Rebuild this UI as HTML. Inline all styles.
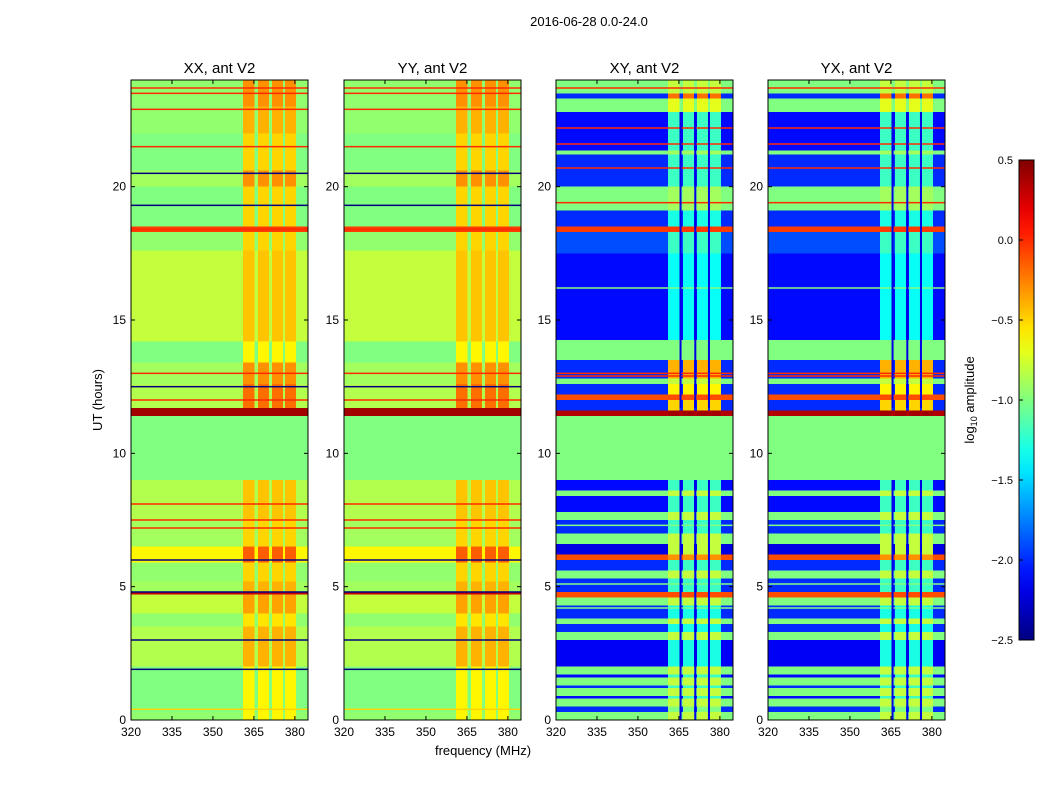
<!DOCTYPE html>
<html><head><meta charset="utf-8"><style>
body{margin:0;background:#fff;}
svg{display:block;font-family:"Liberation Sans",sans-serif;}
</style></head><body>
<svg id="fig" width="1050" height="800" viewBox="0 0 1050 800" xmlns="http://www.w3.org/2000/svg">
<rect width="1050" height="800" fill="#fff"/>
<text x="589" y="26" font-size="13" text-anchor="middle">2016-06-28 0.0-24.0</text>
<text transform="translate(102,400) rotate(-90)" font-size="13" text-anchor="middle">UT (hours)</text>
<text x="483" y="755" font-size="13" text-anchor="middle">frequency (MHz)</text>
<g id="panels"></g>
<defs><linearGradient id="jet" x1="0" y1="1" x2="0" y2="0"></linearGradient></defs>
<g id="cbar"></g>
<text transform="translate(974,400) rotate(-90)" font-size="13" text-anchor="middle">log<tspan font-size="9" dy="3">10</tspan><tspan dy="-3"> amplitude</tspan></text>
</svg>
<script>
// ---- data ----
const panelTitles = ["XX, ant V2","YY, ant V2","XY, ant V2","YX, ant V2"];
const xTicks = [320,335,350,365,380];
const yTicks = [0,5,10,15,20];
const cbTicks = [0.5,0.0,-0.5,-1.0,-1.5,-2.0,-2.5];
const rfiBlocks = [[361,365.2],[366.5,370.5],[371.6,375.6],[376.3,380.4]];
// [startHour, endHour, baseLog10, rfiLog10]
const parBands = [
[0,0.3,-0.95,-0.6],[0.3,2.0,-1.0,-0.6],[2.0,3.5,-0.85,-0.4],[3.5,4.0,-0.95,-0.55],
[4.0,4.7,-0.8,-0.35],[4.7,4.8,0.3,0.3],[4.8,5.2,-0.9,-0.4],[5.2,5.9,-0.95,-0.5],
[5.9,6.5,-0.6,-0.15],[6.5,7.5,-0.9,-0.5],[7.5,9.0,-0.85,-0.45],[9.0,11.4,-1.0,-1.0],
[11.4,11.7,0.4,0.4],[11.7,12.6,-0.85,-0.2],[12.6,13.4,-0.9,-0.3],[13.4,14.2,-1.0,-0.6],
[14.2,17.6,-0.8,-0.45],[17.6,18.3,-0.95,-0.5],[18.3,18.5,-0.05,-0.05],[18.5,20.0,-1.0,-0.5],
[20.0,20.6,-0.9,-0.3],[20.6,22.0,-1.0,-0.5],[22.0,23.0,-0.95,-0.4],[23.0,24,-0.95,-0.3]];
const crossBands = [
[0,0.3,-1.0,-0.8],[0.3,0.5,-2.0,-1.0],[0.5,0.8,-1.0,-0.8],[0.8,0.9,-2.1,-1.2],[0.9,1.2,-1.0,-0.8],
[1.2,1.3,-2.0,-1.2],[1.3,1.6,-1.0,-0.8],[1.6,1.7,-2.1,-1.2],[1.7,2.0,-1.0,-0.8],
[2.0,3.0,-2.15,-1.3],[3.0,3.3,-1.0,-0.8],[3.3,3.6,-2.0,-1.3],[3.6,3.8,-1.0,-0.8],
[3.8,4.3,-2.0,-1.3],[4.3,4.6,-1.0,-0.8],[4.6,4.8,-0.1,-0.1],[4.8,5.3,-2.0,-1.2],
[5.3,5.6,-1.0,-0.8],[5.6,6.0,-2.0,-1.2],[6.0,6.2,-0.1,-0.3],[6.2,6.6,-2.2,-0.8],
[6.6,7.0,-1.0,-0.8],[7.0,7.5,-2.0,-1.2],[7.5,7.8,-1.0,-0.8],[7.8,8.4,-2.1,-1.2],
[8.4,8.6,-1.0,-0.8],[8.6,9.0,-2.1,-1.2],[9.0,11.4,-1.0,-1.0],[11.4,11.6,0.35,0.4],
[11.6,12.0,-2.0,-0.5],[12.0,12.2,-0.1,-0.1],[12.2,12.6,-2.0,-0.6],[12.6,12.8,-1.0,-0.8],
[12.8,13.5,-2.0,-0.4],[13.5,14.25,-1.0,-1.0],[14.25,17.5,-2.1,-1.35],[17.5,18.3,-1.9,-1.2],
[18.3,18.5,-0.05,-0.05],[18.5,19.1,-2.0,-1.3],[19.1,20.0,-1.0,-0.9],[20.0,21.2,-2.0,-1.2],
[21.2,21.35,-1.0,-0.9],[21.35,22.8,-2.1,-1.2],[22.8,23.3,-1.0,-0.7],[23.3,23.5,-2.0,-0.2],
[23.5,24,-1.0,-0.8]];
// thin lines [hour, log10]
const parLines = [[23.7,0],[23.5,0],[22.9,0],[21.5,0],[20.5,-2.5],[19.3,-2.5],[18.4,0],[13.0,0],[12.5,-2.5],[12.0,0],[8.1,0],[7.5,0],[7.2,0],[6.0,-2.5],[4.8,-2.5],[3.0,-2.5],[1.9,-2.5],[0.4,-0.5]];
const crossLines = [[23.7,0],[22.2,0],[21.6,0],[20.7,0],[19.4,0],[16.2,-1.0],[13.0,0],[12.9,0],[7.3,-1.0],[5.1,-1.0],[4.2,-1.0]];
const crossGaps = [365.6,371.0,376.0];

// ---- drawing ----
const NS="http://www.w3.org/2000/svg";
const panelX=[131,344,556,768], PW=177, PT=80, PB=720;
const F0=320, F1=384.8, T0=0, T1=24;
function jet(v){let t=Math.max(0,Math.min(1,(v+2.5)/3));
 const c=x=>Math.round(255*Math.max(0,Math.min(1,x)));
 return `rgb(${c(1.5-Math.abs(4*t-3))},${c(1.5-Math.abs(4*t-2))},${c(1.5-Math.abs(4*t-1))})`;}
function mk(tag,attrs,parent){const e=document.createElementNS(NS,tag);for(const k in attrs)e.setAttribute(k,attrs[k]);parent.appendChild(e);return e;}
const root=document.getElementById('panels');
panelX.forEach((x0,pi)=>{
 const g=mk('g',{},root);
 
 
 const xs=f=>x0+(f-F0)/(F1-F0)*PW;
 const ys=h=>PB-(h-T0)/(T1-T0)*(PB-PT);
 const bands=pi<2?parBands:crossBands, lines=pi<2?parLines:crossLines;
 bands.forEach(b=>{
  const r=mk('rect',{x:x0,y:ys(b[1]),width:PW,height:ys(b[0])-ys(b[1]),fill:jet(b[2]),'shape-rendering':'crispEdges'},g);
  
  
  rfiBlocks.forEach(c=>{
   const rr=mk('rect',{x:xs(c[0]),y:ys(b[1]),width:xs(c[1])-xs(c[0]),height:ys(b[0])-ys(b[1]),fill:jet(b[3]),'shape-rendering':'crispEdges'},g);
   
   
  });
 });
 lines.forEach(l=>{
  const ln=mk('rect',{x:x0,y:ys(l[0])-0.75,width:PW,height:1.5,fill:jet(l[1])},g);
  
  
 });
 if(pi>=2){crossGaps.forEach(f=>{
  const gp=mk('rect',{x:xs(f)-1,y:ys(9.0),width:2,height:ys(0)-ys(9.0),fill:jet(-2.2)},g);
  
  
  const gp2=mk('rect',{x:xs(f)-1,y:ys(22.8),width:2,height:ys(11.7)-ys(22.8),fill:jet(-2.2)},g);
  
  
 });}
 mk('rect',{x:x0,y:PT,width:PW,height:PB-PT,fill:'none',stroke:'#000','stroke-width':1},g);
 const t=mk('text',{x:x0+PW/2,y:73,'font-size':15,'text-anchor':'middle'},g);t.textContent=panelTitles[pi];
 
 
 xTicks.forEach(f=>{const X=xs(f);
  mk('line',{x1:X,x2:X,y1:PB,y2:PB-4,stroke:'#000'},g);mk('line',{x1:X,x2:X,y1:PT,y2:PT+4,stroke:'#000'},g);
  const tx=mk('text',{x:X,y:PB+16,'font-size':12,'text-anchor':'middle'},g);tx.textContent=f;
  
  });
 yTicks.forEach(h=>{const Y=ys(h);
  mk('line',{x1:x0,x2:x0+4,y1:Y,y2:Y,stroke:'#000'},g);mk('line',{x1:x0+PW,x2:x0+PW-4,y1:Y,y2:Y,stroke:'#000'},g);
  const ty=mk('text',{x:x0-5,y:Y+4,'font-size':12,'text-anchor':'end'},g);ty.textContent=h;
  
  });
});
// colorbar
const grad=document.getElementById('jet');
for(let i=0;i<=20;i++){const v=-2.5+3*i/20;mk('stop',{offset:(i/20),'stop-color':jet(v)},grad);}
const cb=document.getElementById('cbar');
mk('rect',{x:1019,y:160,width:15,height:480,fill:'url(#jet)',stroke:'#000','stroke-width':1},cb);
cbTicks.forEach(v=>{const Y=160+(0.5-v)/3*480;
 mk('line',{x1:1019,x2:1023,y1:Y,y2:Y,stroke:'#000'},cb);
 const t=mk('text',{x:1013,y:Y+4,'font-size':11,'text-anchor':'end'},cb);t.textContent=(v<0?'\u2212'+Math.abs(v).toFixed(1):v.toFixed(1));
 
 });
</script>
</body></html>
